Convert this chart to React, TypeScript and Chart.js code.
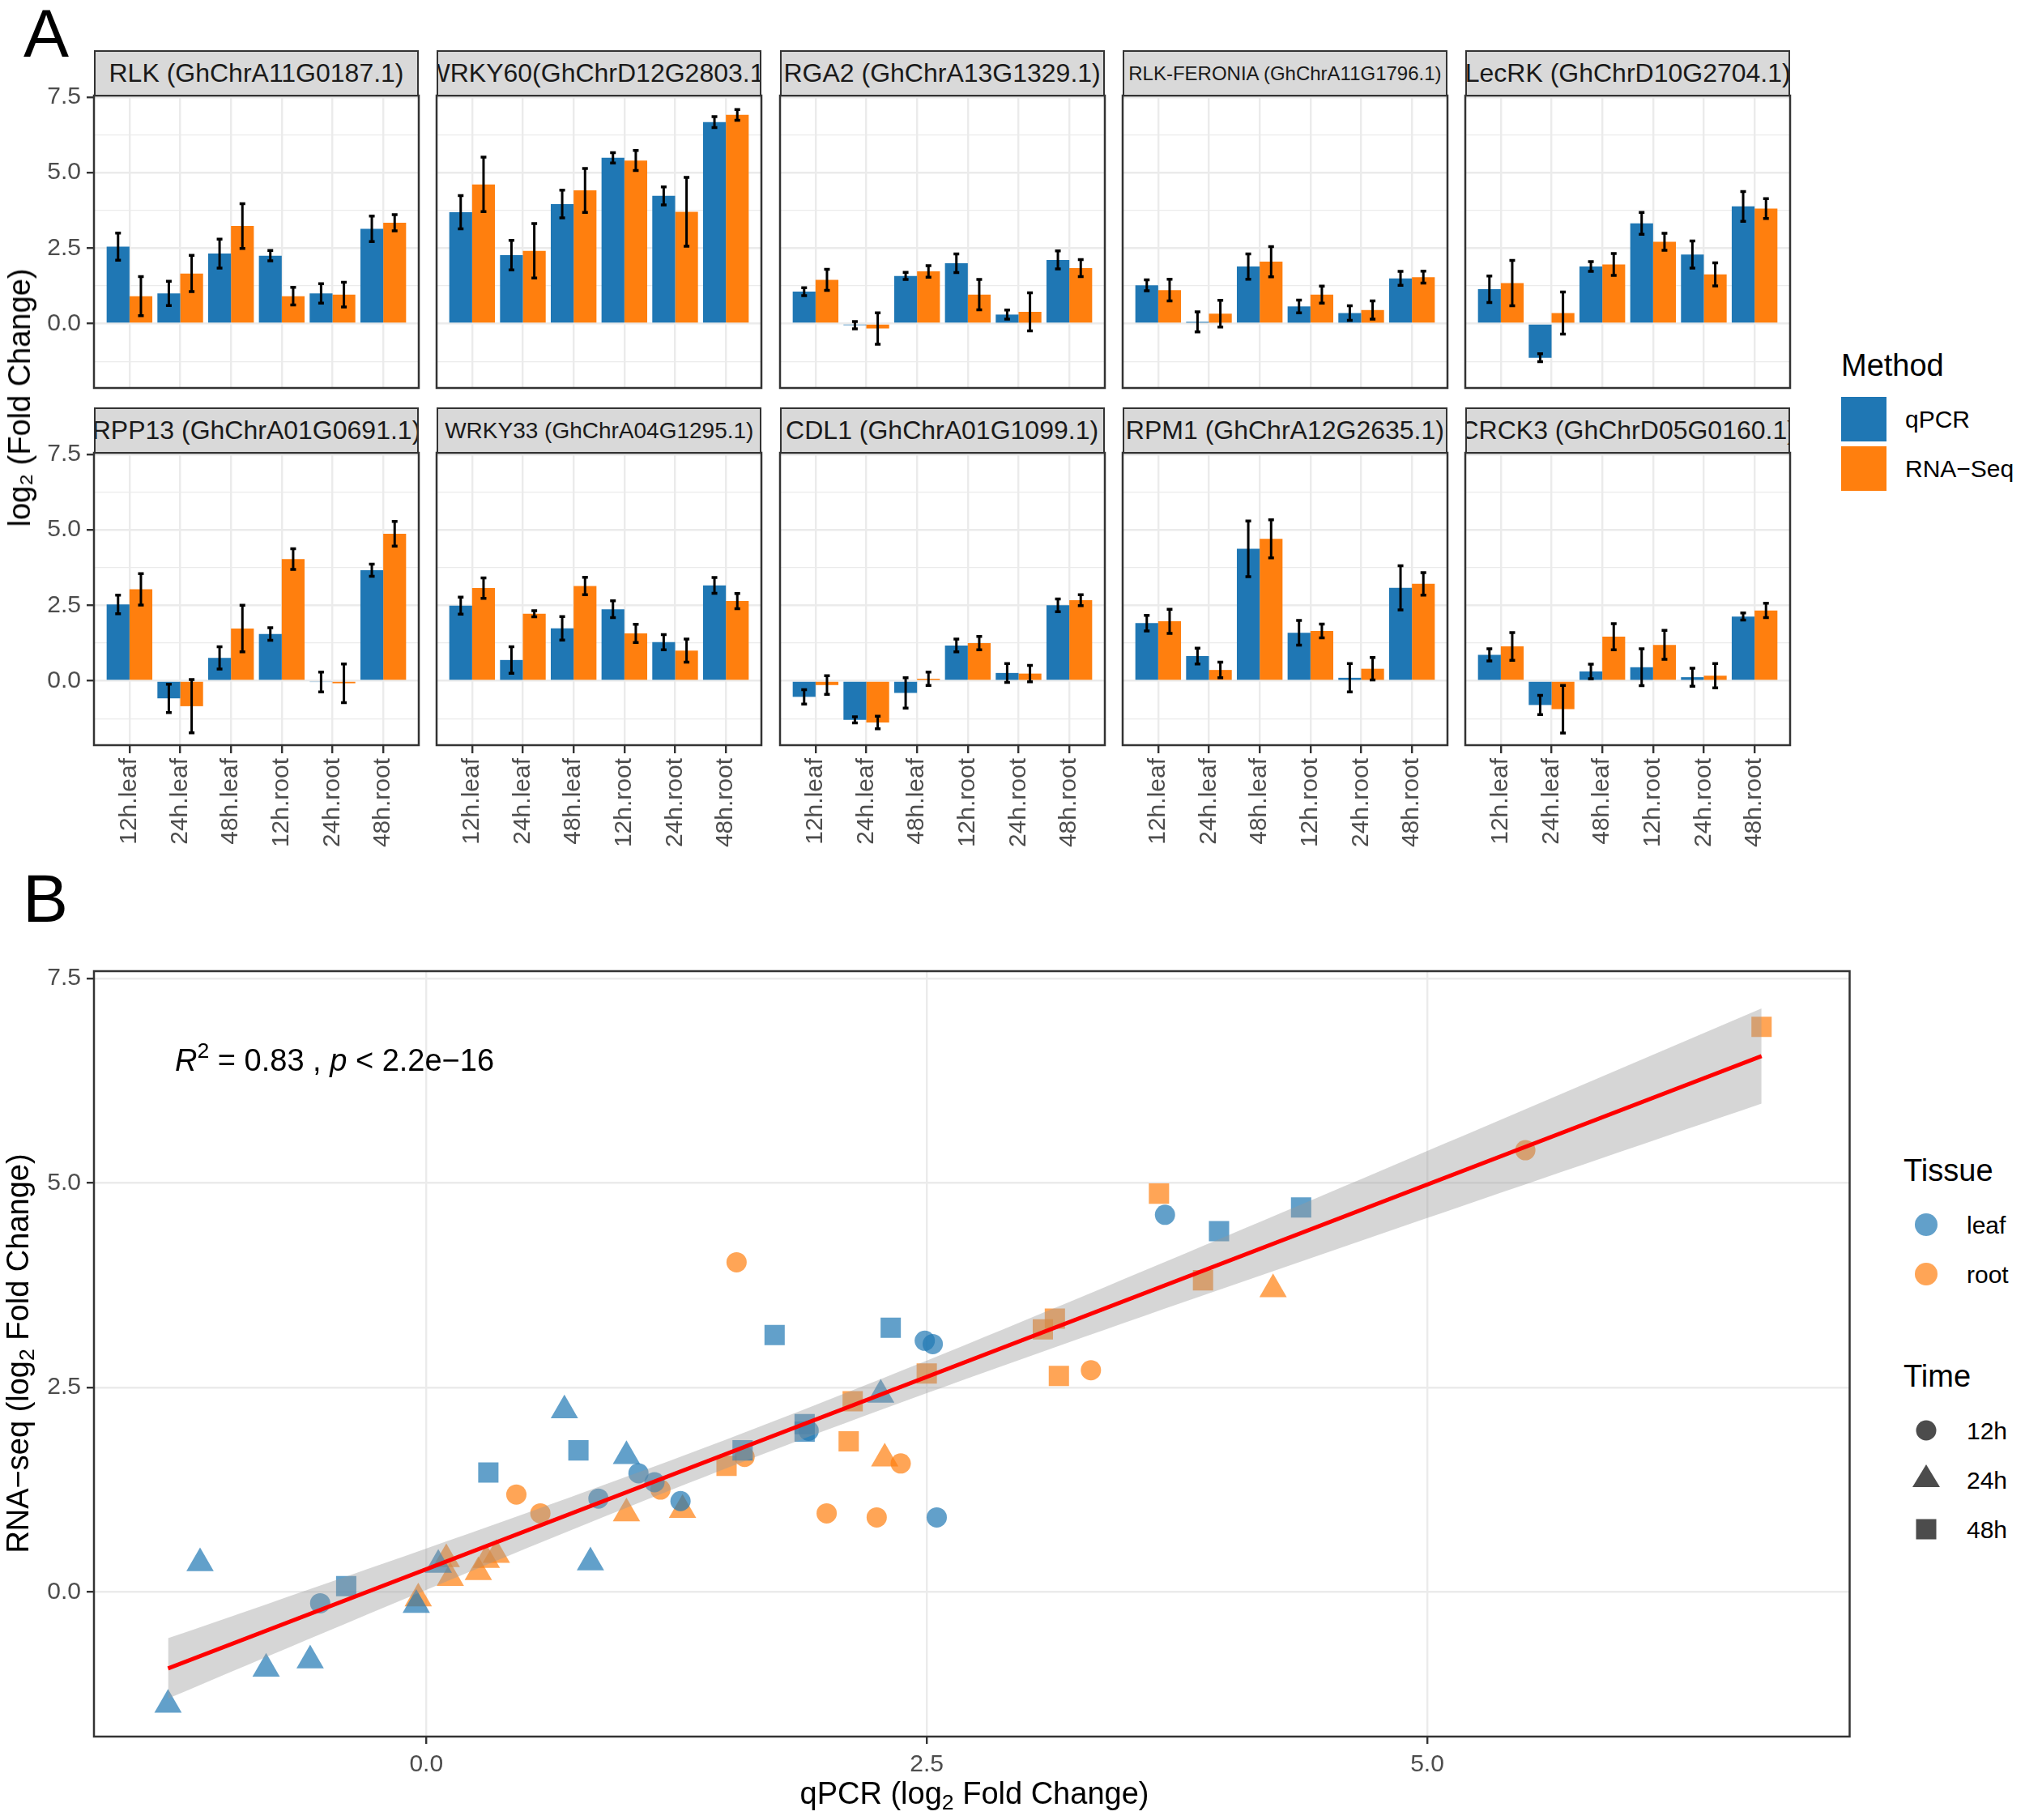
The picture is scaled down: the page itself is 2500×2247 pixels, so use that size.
import { useEffect, useRef } from "react";
import { Chart, registerables, CategoryScale } from "chart.js";

Chart.register(...registerables);

// ggplot pads a discrete axis by 0.6 of a category on each side, Chart.js by 0.5
class PaddedCategoryScale extends CategoryScale {
  static id = "paddedCategory";
  static defaults = CategoryScale.defaults;
  configure() {
    super.configure();
    const s = this as any;
    s._startValue -= 0.1;
    s._valueRange += 0.2;
  }
}
Chart.register(PaddedCategoryScale);

const FONT = '"Liberation Sans", Arial, Helvetica, sans-serif';
Chart.defaults.font.family = FONT;

// ---- data -------------------------------------------------------------
const genes = [
  "RLK (GhChrA11G0187.1)",
  "WRKY60(GhChrD12G2803.1)",
  "RGA2 (GhChrA13G1329.1)",
  "RLK-FERONIA (GhChrA11G1796.1)",
  "LecRK (GhChrD10G2704.1)",
  "RPP13 (GhChrA01G0691.1)",
  "WRKY33 (GhChrA04G1295.1)",
  "CDL1 (GhChrA01G1099.1)",
  "RPM1 (GhChrA12G2635.1)",
  "CRCK3 (GhChrD05G0160.1)",
];
const samples = ["12h.leaf", "24h.leaf", "48h.leaf", "12h.root", "24h.root", "48h.root"];

const qpcr = [
  [2.55, 1.0, 2.32, 2.25, 1.0, 3.14],
  [3.69, 2.27, 3.96, 5.49, 4.23, 6.67],
  [1.06, -0.05, 1.58, 2.0, 0.3, 2.11],
  [1.27, 0.06, 1.89, 0.57, 0.35, 1.5],
  [1.14, -1.13, 1.89, 3.32, 2.29, 3.88],
  [2.53, -0.58, 0.76, 1.55, -0.04, 3.66],
  [2.49, 0.69, 1.74, 2.37, 1.28, 3.16],
  [-0.53, -1.29, -0.4, 1.17, 0.26, 2.5],
  [1.91, 0.82, 4.37, 1.59, 0.1, 3.08],
  [0.86, -0.8, 0.31, 0.45, 0.12, 2.13],
];
const qpcrErr = [
  [0.45, 0.4, 0.48, 0.17, 0.32, 0.42],
  [0.55, 0.49, 0.46, 0.17, 0.3, 0.18],
  [0.13, 0.12, 0.12, 0.31, 0.15, 0.3],
  [0.18, 0.33, 0.42, 0.21, 0.24, 0.23],
  [0.44, 0.13, 0.16, 0.36, 0.45, 0.49],
  [0.31, 0.47, 0.37, 0.21, 0.33, 0.2],
  [0.28, 0.44, 0.39, 0.28, 0.25, 0.26],
  [0.24, 0.1, 0.5, 0.21, 0.31, 0.21],
  [0.26, 0.26, 0.92, 0.41, 0.47, 0.73],
  [0.2, 0.32, 0.24, 0.61, 0.3, 0.12],
];
const rnaSeq = [
  [0.91, 1.66, 3.23, 0.91, 0.96, 3.34],
  [4.61, 2.41, 4.41, 5.4, 3.7, 6.91],
  [1.45, -0.16, 1.73, 0.96, 0.39, 1.84],
  [1.11, 0.33, 2.05, 0.96, 0.45, 1.54],
  [1.34, 0.35, 1.96, 2.71, 1.63, 3.81],
  [3.03, -0.84, 1.73, 4.03, -0.08, 4.87],
  [3.07, 2.22, 3.14, 1.57, 1.0, 2.64],
  [-0.14, -1.38, 0.07, 1.25, 0.24, 2.67],
  [1.97, 0.36, 4.7, 1.65, 0.4, 3.21],
  [1.14, -0.94, 1.46, 1.19, 0.17, 2.33],
];
const rnaSeqErr = [
  [0.65, 0.6, 0.74, 0.29, 0.41, 0.27],
  [0.9, 0.9, 0.73, 0.33, 1.14, 0.18],
  [0.35, 0.52, 0.19, 0.5, 0.63, 0.28],
  [0.36, 0.44, 0.5, 0.28, 0.3, 0.2],
  [0.75, 0.7, 0.36, 0.28, 0.38, 0.33],
  [0.52, 0.88, 0.77, 0.34, 0.64, 0.41],
  [0.34, 0.1, 0.29, 0.3, 0.38, 0.25],
  [0.31, 0.21, 0.22, 0.22, 0.27, 0.18],
  [0.4, 0.26, 0.63, 0.23, 0.37, 0.37],
  [0.46, 0.79, 0.43, 0.48, 0.4, 0.24],
];

const barTicks = [-1.25, 0, 1.25, 2.5, 3.75, 5, 6.25, 7.5];
const scatterXTicks = [0, 2.5, 5];
const scatterYTicks = [0, 2.5, 5, 7.5];
const tissues = ["leaf", "root"];
const times = ["12h", "24h", "48h"];

// ---- styles -----------------------------------------------------------
const BLUE = "#1F77B4";
const ORANGE = "#FF7F0E";
const TISSUE_FILL = ["rgba(31,119,180,0.7)", "rgba(255,127,14,0.7)"];
const SHAPES = ["circle", "triangle", "rect"];
const SHAPE_R = [12.5, 19.5, 17.7];
const GRID = "#EBEBEB";
const AXIS = "#333333";
const TICK_TEXT = "#4D4D4D";
const STRIP_FONT = [32, 32, 32, 24, 32, 32, 28, 32, 32, 32];

// facet geometry
const PANEL_X0 = 116;
const PANEL_DX = 423.3;
const PANEL_W = 401;
const STRIP_Y0 = 62;
const PANEL_DY = 441;
const STRIP_H = 56;
const PANEL_H = 361;
const AXIS_W = 80;
const PAD_T = 30;
const PAD_R = 12;
const Y_MIN = -2.13;
const Y_MAX = 7.55;

// scatter geometry
const SC_LEFT = 116;
const SC_TOP = 1199;
const SC_W = 2175;
const SC_H = 945;
const SC_AXIS_W = 90;
const SC_AXIS_H = 80;

const isMajor = (v: number) => Math.abs(v / 2.5 - Math.round(v / 2.5)) < 1e-6;

const errorBars = {
  id: "errorBars",
  afterDatasetsDraw(chart: any) {
    const { ctx } = chart;
    const y = chart.scales.y;
    ctx.save();
    ctx.strokeStyle = "#000";
    chart.data.datasets.forEach((ds: any, i: number) => {
      const meta = chart.getDatasetMeta(i);
      meta.data.forEach((bar: any, j: number) => {
        const v = ds.data[j];
        const e = ds.errors[j];
        const top = y.getPixelForValue(v + e);
        const bot = y.getPixelForValue(v - e);
        ctx.lineWidth = 3;
        ctx.beginPath();
        ctx.moveTo(bar.x, top);
        ctx.lineTo(bar.x, bot);
        ctx.stroke();
        ctx.lineWidth = 3.5;
        ctx.beginPath();
        ctx.moveTo(bar.x - 3.5, top);
        ctx.lineTo(bar.x + 3.5, top);
        ctx.moveTo(bar.x - 3.5, bot);
        ctx.lineTo(bar.x + 3.5, bot);
        ctx.stroke();
      });
    });
    ctx.restore();
  },
};

const panelBorder = {
  id: "panelBorder",
  afterDraw(chart: any) {
    const { ctx, chartArea: a } = chart;
    ctx.save();
    ctx.strokeStyle = AXIS;
    ctx.lineWidth = 2.5;
    ctx.strokeRect(a.left, a.top, a.right - a.left, a.bottom - a.top);
    ctx.restore();
  },
};

function Facet({ index }: { index: number }) {
  const canvasRef = useRef<HTMLCanvasElement | null>(null);
  const col = index % 5;
  const row = Math.floor(index / 5);
  const left = PANEL_X0 + col * PANEL_DX;
  const stripTop = STRIP_Y0 + row * PANEL_DY;
  const top = stripTop + STRIP_H;
  const axisH = row === 1 ? 150 : 0;
  const padB = row === 1 ? 0 : 30;
  const w = AXIS_W + PANEL_W + PAD_R;
  const h = PAD_T + PANEL_H + axisH + padB;

  useEffect(() => {
    if (!canvasRef.current) return;
    const chart = new Chart(canvasRef.current, {
      type: "bar",
      data: {
        labels: samples,
        datasets: [
          {
            label: "qPCR",
            data: qpcr[index],
            errors: qpcrErr[index],
            backgroundColor: BLUE,
            borderWidth: 0,
            categoryPercentage: 0.9,
            barPercentage: 1,
          } as any,
          {
            label: "RNA−Seq",
            data: rnaSeq[index],
            errors: rnaSeqErr[index],
            backgroundColor: ORANGE,
            borderWidth: 0,
            categoryPercentage: 0.9,
            barPercentage: 1,
          } as any,
        ],
      },
      options: {
        responsive: false,
        animation: false,
        devicePixelRatio: 1,
        events: [],
        layout: { padding: { top: PAD_T, right: PAD_R, left: 0, bottom: padB } },
        plugins: { legend: { display: false }, tooltip: { enabled: false } },
        scales: {
          x: {
            type: "paddedCategory" as any,
            offset: true,
            border: { display: false },
            grid: {
              offset: false,
              color: GRID,
              lineWidth: 2.4,
              drawTicks: row === 1,
              tickLength: 10,
              tickColor: AXIS,
              tickWidth: 2.4,
            },
            ticks: {
              display: row === 1,
              minRotation: 90,
              maxRotation: 90,
              autoSkip: false,
              padding: 6,
              color: TICK_TEXT,
              font: { size: 30 },
            },
            afterFit: (s: any) => {
              s.height = axisH;
            },
          },
          y: {
            min: Y_MIN,
            max: Y_MAX,
            border: { display: false },
            afterBuildTicks: (s: any) => {
              s.ticks = barTicks.map((v) => ({ value: v }));
            },
            grid: {
              color: GRID,
              lineWidth: (c: any) => (isMajor(c.tick.value) ? 2.4 : 1.2),
              drawTicks: col === 0,
              tickLength: 9,
              tickColor: (c: any) => (isMajor(c.tick.value) ? AXIS : "rgba(0,0,0,0)"),
              tickWidth: 2.4,
            },
            ticks: {
              display: col === 0,
              padding: 7,
              color: TICK_TEXT,
              font: { size: 30 },
              callback: (v: any) => (isMajor(Number(v)) ? Number(v).toFixed(1) : ""),
            },
            afterFit: (s: any) => {
              s.width = AXIS_W;
            },
          },
        },
      } as any,
      plugins: [errorBars, panelBorder],
    });
    return () => chart.destroy();
  }, [index]);

  return (
    <>
      <canvas
        ref={canvasRef}
        width={w}
        height={h}
        style={{ position: "absolute", left: left - AXIS_W, top: top - PAD_T, width: w, height: h }}
      />
      <div
        style={{
          position: "absolute",
          left,
          top: stripTop,
          width: PANEL_W,
          height: STRIP_H + 1,
          boxSizing: "border-box",
          border: `2.5px solid ${AXIS}`,
          background: "#D9D9D9",
          display: "flex",
          alignItems: "center",
          justifyContent: "center",
          overflow: "hidden",
        }}
      >
        <span style={{ whiteSpace: "nowrap", fontSize: STRIP_FONT[index], color: "#1A1A1A" }}>
          {genes[index]}
        </span>
      </div>
    </>
  );
}

function linearFit(xs: number[], ys: number[]) {
  const n = xs.length;
  const mx = xs.reduce((a, b) => a + b, 0) / n;
  const my = ys.reduce((a, b) => a + b, 0) / n;
  let sxx = 0;
  let sxy = 0;
  xs.forEach((x, i) => {
    sxx += (x - mx) * (x - mx);
    sxy += (x - mx) * (ys[i] - my);
  });
  const b = sxy / sxx;
  const a = my - b * mx;
  let rss = 0;
  xs.forEach((x, i) => {
    const r = ys[i] - (a + b * x);
    rss += r * r;
  });
  const s = Math.sqrt(rss / (n - 2));
  return { a, b, s, n, mx, sxx };
}

function ScatterPanel() {
  const canvasRef = useRef<HTMLCanvasElement | null>(null);
  const w = SC_AXIS_W + SC_W + PAD_R;
  const h = PAD_T + SC_H + SC_AXIS_H;

  useEffect(() => {
    if (!canvasRef.current) return;
    const xs = qpcr.flat();
    const ys = rnaSeq.flat();
    const fit = linearFit(xs, ys);
    const xmin = Math.min(...xs);
    const xmax = Math.max(...xs);
    const t = 2.0017; // t(0.975, df = 58)
    const upper: { x: number; y: number }[] = [];
    const lower: { x: number; y: number }[] = [];
    for (let i = 0; i <= 80; i++) {
      const x = xmin + ((xmax - xmin) * i) / 80;
      const yhat = fit.a + fit.b * x;
      const se = fit.s * Math.sqrt(1 / fit.n + ((x - fit.mx) * (x - fit.mx)) / fit.sxx);
      upper.push({ x, y: yhat + t * se });
      lower.push({ x, y: yhat - t * se });
    }

    const pointSets = tissues.flatMap((tissue, ti) =>
      times.map((time, k) => {
        const j = ti * 3 + k;
        return {
          type: "scatter",
          label: `${tissue} ${time}`,
          data: genes.map((_, g) => ({ x: qpcr[g][j], y: rnaSeq[g][j] })),
          backgroundColor: TISSUE_FILL[ti],
          borderWidth: 0,
          pointStyle: SHAPES[k],
          pointRadius: SHAPE_R[k],
          order: 3,
        };
      })
    );

    const chart = new Chart(canvasRef.current, {
      type: "scatter",
      data: {
        datasets: [
          ...pointSets,
          {
            type: "line",
            label: "upper",
            data: upper,
            borderColor: "rgba(0,0,0,0)",
            borderWidth: 0,
            pointRadius: 0,
            fill: false,
            order: 2,
          },
          {
            type: "line",
            label: "lower",
            data: lower,
            borderColor: "rgba(0,0,0,0)",
            borderWidth: 0,
            pointRadius: 0,
            fill: "-1",
            backgroundColor: "rgba(153,153,153,0.4)",
            order: 2,
          },
          {
            type: "line",
            label: "fit",
            data: [
              { x: xmin, y: fit.a + fit.b * xmin },
              { x: xmax, y: fit.a + fit.b * xmax },
            ],
            borderColor: "#FF0000",
            borderWidth: 5,
            pointRadius: 0,
            fill: false,
            order: 1,
          },
        ] as any,
      },
      options: {
        responsive: false,
        animation: false,
        devicePixelRatio: 1,
        events: [],
        layout: { padding: { top: PAD_T, right: PAD_R, left: 0, bottom: 0 } },
        plugins: { legend: { display: false }, tooltip: { enabled: false } },
        scales: {
          x: {
            type: "linear",
            min: -1.66,
            max: 7.11,
            border: { display: false },
            afterBuildTicks: (s: any) => {
              s.ticks = scatterXTicks.map((v) => ({ value: v }));
            },
            grid: { color: GRID, lineWidth: 2.4, tickLength: 9, tickColor: AXIS, tickWidth: 2.4 },
            ticks: {
              padding: 8,
              color: TICK_TEXT,
              font: { size: 30 },
              callback: (v: any) => Number(v).toFixed(1),
            },
            afterFit: (s: any) => {
              s.height = SC_AXIS_H;
            },
          },
          y: {
            type: "linear",
            min: -1.77,
            max: 7.59,
            border: { display: false },
            afterBuildTicks: (s: any) => {
              s.ticks = scatterYTicks.map((v) => ({ value: v }));
            },
            grid: { color: GRID, lineWidth: 2.4, tickLength: 9, tickColor: AXIS, tickWidth: 2.4 },
            ticks: {
              padding: 7,
              color: TICK_TEXT,
              font: { size: 30 },
              callback: (v: any) => Number(v).toFixed(1),
            },
            afterFit: (s: any) => {
              s.width = SC_AXIS_W;
            },
          },
        },
      } as any,
      plugins: [panelBorder],
    });
    return () => chart.destroy();
  }, []);

  return (
    <canvas
      ref={canvasRef}
      width={w}
      height={h}
      style={{ position: "absolute", left: SC_LEFT - SC_AXIS_W, top: SC_TOP - PAD_T, width: w, height: h }}
    />
  );
}

function Label({ x, y, size, children, style }: any) {
  return (
    <div
      style={{
        position: "absolute",
        left: x,
        top: y - 0.8465 * size,
        fontSize: size,
        lineHeight: `${size}px`,
        whiteSpace: "pre",
        ...style,
      }}
    >
      {children}
    </div>
  );
}

function CenterLabel({ x, y, size, rotate = 0, children }: any) {
  return (
    <div style={{ position: "absolute", left: x, top: y, width: 0, height: 0 }}>
      <div
        style={{
          position: "absolute",
          left: 0,
          top: 0,
          transform: `translate(-50%, -50%) rotate(${rotate}deg)`,
          fontSize: size,
          lineHeight: `${size}px`,
          whiteSpace: "nowrap",
        }}
      >
        {children}
      </div>
    </div>
  );
}

const subStyle = { fontSize: "0.7em", position: "relative" as const, top: "0.25em", verticalAlign: "baseline" };

export default function App() {
  return (
    <div
      style={{
        position: "absolute",
        left: 0,
        top: 0,
        width: 2500,
        height: 2247,
        background: "#fff",
        fontFamily: FONT,
        color: "#000",
        overflow: "hidden",
      }}
    >
      <Label x={29} y={70} size={84}>A</Label>
      <Label x={28} y={1138} size={84}>B</Label>

      {genes.map((g, i) => (
        <Facet key={g} index={i} />
      ))}
      <CenterLabel x={24} y={491} size={38} rotate={-90}>
        log₂ (Fold Change)
      </CenterLabel>

      <Label x={2273} y={464} size={38}>Method</Label>
      <Label x={2352} y={528} size={30}>qPCR</Label>
      <Label x={2352} y={589} size={30}>RNA−Seq</Label>

      <ScatterPanel />
      <Label x={216} y={1322} size={38}>
        <i>R</i>
        <span style={{ fontSize: "0.7em", position: "relative", top: "-0.6em" }}>2</span>
        {" = 0.83 , "}
        <i>p</i>
        {" < 2.2e−16"}
      </Label>
      <CenterLabel x={1203} y={2216} size={38}>
        qPCR (log<span style={subStyle}>2</span> Fold Change)
      </CenterLabel>
      <CenterLabel x={24} y={1671} size={38} rotate={-90}>
        RNA−seq (log<span style={subStyle}>2</span> Fold Change)
      </CenterLabel>

      <Label x={2350} y={1458} size={38}>Tissue</Label>
      <Label x={2428} y={1523} size={30}>leaf</Label>
      <Label x={2428} y={1584} size={30}>root</Label>
      <Label x={2350} y={1712} size={38}>Time</Label>
      <Label x={2428} y={1777} size={30}>12h</Label>
      <Label x={2428} y={1838} size={30}>24h</Label>
      <Label x={2428} y={1899} size={30}>48h</Label>

      <svg
        width={2500}
        height={2247}
        style={{ position: "absolute", left: 0, top: 0, pointerEvents: "none" }}
      >
        <rect x={2273} y={490} width={56} height={55} fill={BLUE} />
        <rect x={2273} y={551} width={56} height={55} fill={ORANGE} />
        <circle cx={2378} cy={1512} r={14} fill={TISSUE_FILL[0]} />
        <circle cx={2378} cy={1573} r={14} fill={TISSUE_FILL[1]} />
        <circle cx={2378} cy={1766} r={12.5} fill="rgba(0,0,0,0.7)" />
        <polygon points="2378,1808 2361,1836 2395,1836" fill="rgba(0,0,0,0.7)" />
        <rect x={2365.5} y={1875.5} width={25} height={25} fill="rgba(0,0,0,0.7)" />
      </svg>
    </div>
  );
}
